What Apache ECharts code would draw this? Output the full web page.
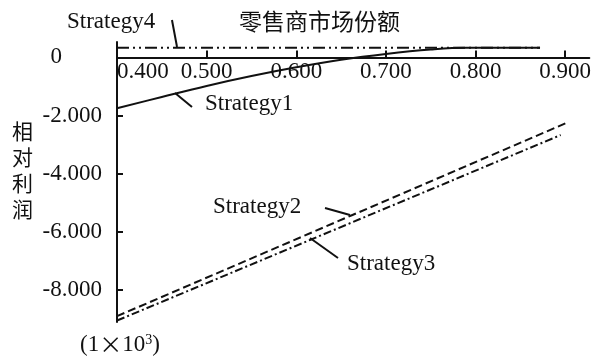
<!DOCTYPE html>
<html>
<head>
<meta charset="utf-8">
<script src="https://cdn.jsdelivr.net/npm/echarts@6/dist/echarts.min.js"></script>
<style>
  html, body { margin: 0; padding: 0; background: #fff; }
  #main { width: 594px; height: 358px; }
</style>
</head>
<body>
<div id="main"></div>
<script>
// x = retailer market share, y = relative profit (x 10^3)
const xTicks = [0.4, 0.5, 0.6, 0.7, 0.8, 0.9]
const yTicks = [-8, -6, -4, -2, 0]

const strategy1 = [[0.4, -1.75], [0.45, -1.36], [0.5, -0.98], [0.55, -0.64], [0.6, -0.34],
  [0.65, -0.08], [0.7, 0.12], [0.75, 0.27], [0.79, 0.33], [0.872, 0.33]]
const strategy2 = [[0.4, -8.9], [0.662, -5.43], [0.901, -2.26]]
const strategy3 = [[0.4, -9.05], [0.616, -6.27], [0.895, -2.67]]
const strategy4 = [[0.4, 0.33], [0.872, 0.33]]

const yMin = -9.1
const yMax = 0.53
const gridTop = 42
const gridHeight = 280

const serif = '"Liberation Serif", "Times New Roman", serif'
const cjk = '"Noto Sans CJK SC", sans-serif'
const ink = '#111'

const chart = echarts.init(document.getElementById('main'))

// the x axis sits on y = 0, labels below it
const zeroFromBottom = gridHeight * (0 - yMin) / (yMax - yMin)

function lineSeries (name, data, type, width) {
  return {
    name: name,
    type: 'line',
    data: data,
    symbol: 'none',
    smooth: name === 'Strategy1' ? 0.4 : false,
    lineStyle: { color: ink, width: width, type: type },
    silent: true
  }
}

function label (text, x, y) {
  return { type: 'text', x: x, y: y, style: { text: text, font: '23px ' + serif, fill: ink } }
}

function leader (x1, y1, x2, y2) {
  return { type: 'line', shape: { x1: x1, y1: y1, x2: x2, y2: y2 }, style: { stroke: ink, lineWidth: 2 } }
}

const option = {
  backgroundColor: '#fff',
  animation: false,
  title: {
    text: '零售商市场份额',
    left: 239,
    top: 10,
    padding: 0,
    textStyle: { fontFamily: cjk, fontSize: 23, fontWeight: 'normal', color: ink }
  },
  grid: { left: 117, top: gridTop, width: 473, height: gridHeight },
  xAxis: {
    type: 'value',
    min: 0.4,
    max: 0.927,
    position: 'bottom',
    offset: -zeroFromBottom,
    axisLine: { show: true, onZero: false, lineStyle: { color: ink, width: 2 } },
    axisTick: { show: true, inside: true, length: 7, customValues: xTicks, lineStyle: { color: ink, width: 2 } },
    axisLabel: {
      customValues: xTicks,
      alignMinLabel: 'left',
      margin: 3,
      fontFamily: serif,
      fontSize: 23,
      color: ink,
      formatter: v => v.toFixed(3)
    },
    splitLine: { show: false }
  },
  yAxis: {
    type: 'value',
    min: yMin,
    max: yMax,
    axisLine: { show: true, onZero: false, lineStyle: { color: ink, width: 2 } },
    axisTick: { show: true, inside: true, length: 6, customValues: yTicks, lineStyle: { color: ink, width: 2 } },
    axisLabel: {
      customValues: yTicks,
      margin: 15,
      fontFamily: serif,
      fontSize: 23,
      color: ink,
      formatter: v => v === 0 ? '{z|0}' : v.toFixed(3),
      rich: { z: { fontFamily: serif, fontSize: 23, color: ink, padding: [0, 40, 0, 0] } }
    },
    splitLine: { show: false }
  },
  series: [
    lineSeries('Strategy1', strategy1, 'solid', 2),
    lineSeries('Strategy2', strategy2, [8, 4], 2),
    lineSeries('Strategy3', strategy3, [8, 3, 2, 3], 2),
    lineSeries('Strategy4', strategy4, [12, 4, 2, 4, 2, 4], 2)
  ],
  graphic: [
    {
      type: 'text', x: 12, y: 118,
      style: { text: '相\n对\n利\n润', font: '21px ' + cjk, lineHeight: 26, fill: ink }
    },
    {
      type: 'text', x: 80, y: 333,
      style: {
        text: '{t|(1}{x|×}{t|10}{sup|3}{t|)}',
        fill: ink,
        rich: {
          t: { fontFamily: serif, fontSize: 23, fill: ink },
          x: { fontFamily: cjk, fontSize: 23, fill: ink },
          sup: { fontFamily: serif, fontSize: 14, verticalAlign: 'top', fill: ink }
        }
      }
    },
    label('Strategy4', 67, 10),
    leader(172, 20, 177, 47),
    label('Strategy1', 205, 92),
    leader(175, 93, 192, 107),
    label('Strategy2', 213, 195),
    leader(325, 208, 350, 215),
    label('Strategy3', 347, 252),
    leader(310, 238, 338, 258)
  ]
}

chart.setOption(option)
</script>
</body>
</html>
